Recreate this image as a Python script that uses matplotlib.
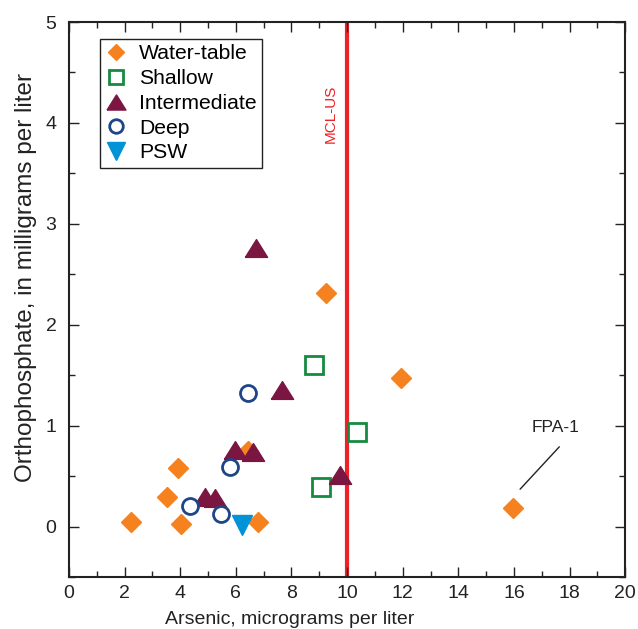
import matplotlib
matplotlib.use("Agg")
import matplotlib.pyplot as plt
from matplotlib.ticker import MultipleLocator

plt.rcParams["font.family"] = ["Liberation Sans", "DejaVu Sans"]

# Arsenic (ug/L) and orthophosphate (mg/L) by well depth category
wt_as = [2.23, 3.53, 3.92, 4.03, 6.44, 6.80, 9.24, 11.94, 15.97]
wt_po4 = [0.04, 0.29, 0.58, 0.03, 0.75, 0.04, 2.31, 1.47, 0.18]

sh_as = [8.81, 10.36, 9.06]
sh_po4 = [1.60, 0.94, 0.39]

int_as = [6.73, 7.66, 5.97, 6.62, 4.90, 5.25, 9.75]
int_po4 = [2.76, 1.35, 0.76, 0.74, 0.29, 0.28, 0.51]

deep_as = [6.44, 5.79, 4.35, 5.47]
deep_po4 = [1.32, 0.59, 0.20, 0.12]

psw_as = [6.22]
psw_po4 = [0.02]

mcl_as = 10.0

# FPA-1 callout: label position and leader line ends
fpa1_text = (17.48, 0.98)
fpa1_line = [(17.63, 0.79), (16.22, 0.37)]

ORANGE = "#f5821f"
GREEN = "#168a3f"
MAROON = "#7b1642"
NAVY = "#1d4588"
CYAN = "#0093d8"
RED = "#ec2227"
INK = "#222222"

# wide, slightly flattened triangle
tri = [(-1.0, -0.8), (1.0, -0.8), (0.0, 0.8), (-1.0, -0.8)]

fig = plt.figure(figsize=(6.38, 6.29), dpi=100)
ax = fig.add_axes([0.108, 0.0827, 0.872, 0.8823])

ax.axvline(mcl_as, color=RED, lw=3.0, zorder=1)
ax.text(9.42, 4.09, "MCL-US", rotation=90, color=RED, fontsize=11,
        ha="center", va="center")

ax.plot(wt_as, wt_po4, ls="none", marker="D", ms=10, color=ORANGE,
        mec=ORANGE, label="Water-table", zorder=3)
ax.plot(sh_as, sh_po4, ls="none", marker="s", ms=12.5, mfc="white",
        mec=GREEN, mew=2.0, label="Shallow", zorder=3)
ax.plot(int_as, int_po4, ls="none", marker=tri, ms=16, color=MAROON,
        mec=MAROON, label="Intermediate", zorder=3)
ax.plot(deep_as, deep_po4, ls="none", marker="o", ms=11.5, mfc="white",
        mec=NAVY, mew=2.0, label="Deep", zorder=3)
ax.plot(psw_as, psw_po4, ls="none", marker="v", ms=15, color=CYAN,
        mec=CYAN, label="PSW", zorder=3)

ax.text(*fpa1_text, "FPA-1", fontsize=12.5, ha="center", va="center",
        color=INK)
ax.annotate("", xy=fpa1_line[1], xytext=fpa1_line[0],
            arrowprops=dict(arrowstyle="-", color=INK, lw=1.0,
                            shrinkA=0, shrinkB=0))

ax.set_xlim(0, 20)
ax.set_ylim(-0.5, 5)
ax.xaxis.set_major_locator(MultipleLocator(2))
ax.xaxis.set_minor_locator(MultipleLocator(1))
ax.yaxis.set_major_locator(MultipleLocator(1))
ax.yaxis.set_minor_locator(MultipleLocator(0.5))
ax.tick_params(which="both", direction="in", top=True, right=True,
               labelsize=14, colors=INK)
ax.tick_params(axis="x", pad=6)
ax.tick_params(axis="y", pad=9)
ax.tick_params(which="major", length=7, width=1.0)
ax.tick_params(which="minor", length=4, width=1.0)
for sp in ax.spines.values():
    sp.set_linewidth(1.5)
    sp.set_color(INK)

ax.set_xlabel("Arsenic, micrograms per liter", fontsize=14, color=INK)
ax.xaxis.set_label_coords(0.396, -0.062)
ax.set_ylabel("Orthophosphate, in milligrams per liter", fontsize=17.5,
              color=INK)
ax.yaxis.set_label_coords(-0.058, 0.539)

leg = ax.legend(loc="upper left", bbox_to_anchor=(0.056, 0.969),
                borderaxespad=0, fontsize=15.2, fancybox=False,
                edgecolor=INK, framealpha=1, handlelength=1.0,
                handletextpad=0.6, labelspacing=0.27, borderpad=0.25,
                markerscale=0.85)
leg.get_frame().set_linewidth(1.0)

fig.savefig("out.png", dpi=100)
